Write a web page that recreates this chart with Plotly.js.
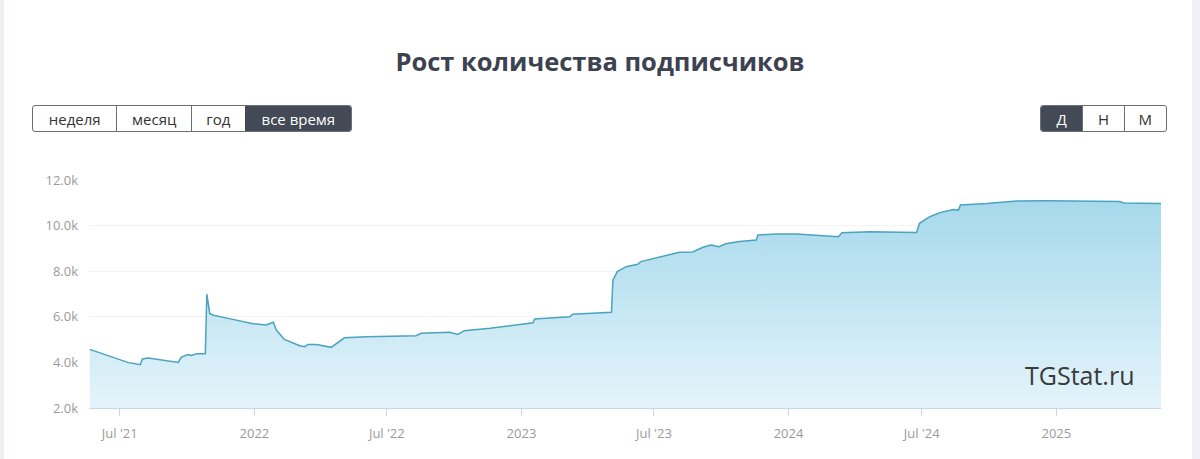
<!DOCTYPE html>
<html>
<head>
<meta charset="utf-8">
<script src="https://cdn.plot.ly/plotly-3.0.1.min.js"></script>
<style>
  html, body { margin:0; padding:0; width:1200px; height:459px; overflow:hidden; background:#eef0f4; font-family:"Open Sans", sans-serif; }
  #card { position:absolute; left:4px; top:0; width:1188px; height:459px; background:#ffffff; }
  #chart { position:absolute; left:0; top:0; width:1200px; height:459px; }
  .grp { position:absolute; top:105px; height:27px; display:flex; border:1px solid #6b7078; border-radius:3px; overflow:hidden; box-sizing:border-box; z-index:5; background:#fff; }
  .grp div { height:100%; display:flex; align-items:center; justify-content:center; font-size:15px; color:#333; box-sizing:border-box; border-left:1px solid #6b7078; }
  .grp div:first-child { border-left:none; }
  .grp div.on { background:#434a55; color:#fff; border-left-color:#434a55; }
</style>
</head>
<body>
<div id="card"></div>
<div id="chart"></div>
<div class="grp" style="left:32px;width:320px;">
  <div style="width:84px">неделя</div>
  <div style="width:75px">месяц</div>
  <div style="width:54px">год</div>
  <div class="on" style="width:107px">все время</div>
</div>
<div class="grp" style="left:1040px;width:127px;">
  <div class="on" style="width:42px">Д</div>
  <div style="width:42px">Н</div>
  <div style="width:43px">М</div>
</div>
<script>
const dates = [
  "2021-05-21","2021-07-13","2021-07-29","2021-08-01","2021-08-09","2021-09-19","2021-09-23",
  "2021-10-02","2021-10-07","2021-10-14","2021-10-26","2021-10-28","2021-11-01","2021-11-06",
  "2021-11-28","2021-12-30","2022-01-17","2022-01-27","2022-01-31","2022-02-11","2022-03-04",
  "2022-03-11","2022-03-15","2022-03-27","2022-04-16","2022-05-04","2022-06-03","2022-08-10",
  "2022-08-17","2022-09-11","2022-09-25","2022-10-06","2022-10-15","2022-11-19","2023-01-17",
  "2023-01-19","2023-03-08","2023-03-12","2023-05-04","2023-05-06","2023-05-12","2023-05-24",
  "2023-06-09","2023-06-13","2023-07-04","2023-08-05","2023-08-23","2023-09-06","2023-09-17",
  "2023-09-28","2023-10-07","2023-10-26","2023-11-18","2023-11-20","2023-12-16","2024-01-12",
  "2024-03-09","2024-03-14","2024-04-21","2024-06-24","2024-06-28","2024-07-12","2024-07-26",
  "2024-08-13","2024-08-20","2024-08-23","2024-09-28","2024-11-08","2024-12-19","2025-02-11",
  "2025-03-28","2025-04-04","2025-05-24"
];
const subscribers = [
  4570,3990,3900,4150,4190,4000,4220,
  4340,4300,4380,4380,6990,6150,6070,
  5920,5700,5640,5760,5420,5010,4730,
  4690,4790,4780,4660,5080,5130,5170,
  5280,5300,5320,5230,5390,5500,5740,
  5900,6000,6110,6200,7610,7980,8200,
  8300,8420,8590,8830,8840,9050,9150,
  9075,9200,9300,9370,9590,9630,9630,
  9510,9690,9730,9700,10100,10390,10570,
  10710,10680,10900,10970,11080,11090,11060,
  11060,10990,10970
];
const xTickVals = ["2021-07-01","2022-01-01","2022-07-01","2023-01-01","2023-07-01","2024-01-01","2024-07-01","2025-01-01"];
const xTickText = ["Jul '21","2022","Jul '22","2023","Jul '23","2024","Jul '24","2025"];
const yTickVals = [2000,4000,6000,8000,10000,12000];
const yTickText = ["2.0k","4.0k","6.0k","8.0k","10.0k","12.0k"];

const trace = {
  x: dates, y: subscribers, type:"scatter", mode:"lines",
  line:{color:"#4aa3bf", width:1.5},
  fill:"tozeroy",
  fillgradient:{type:"vertical", start:2000, stop:12000,
    colorscale:[[0,"rgb(228,244,251)"],[1,"rgb(160,214,234)"]]},
  hoverinfo:"skip"
};
const layout = {
  width:1200, height:459,
  margin:{l:89, r:39, t:180, b:51},
  paper_bgcolor:"rgba(0,0,0,0)", plot_bgcolor:"rgba(0,0,0,0)",
  showlegend:false,
  title:{text:"Рост количества подписчиков", x:0.5, xref:"container", xanchor:"center",
    y:(459-62)/459, yref:"container", yanchor:"middle",
    font:{family:"Open Sans", size:25.5, color:"#3c4250", weight:700}},
  xaxis:{type:"date", range:["2021-05-20","2025-05-24"], tickvals:xTickVals, ticktext:xTickText,
    ticks:"outside", ticklen:7, tickcolor:"#ccd6eb", tickwidth:1,
    showline:true, linecolor:"#ccd6eb", linewidth:1, showgrid:false, zeroline:false,
    ticklabelstandoff:6,
    tickfont:{family:"Open Sans", size:13, color:"#9a9a9a"}},
  yaxis:{range:[2000,12000], tickvals:yTickVals, ticktext:yTickText,
    showgrid:true, gridcolor:"#f3f3f3", gridwidth:1, zeroline:false, showline:false,
    ticks:"", ticklabelstandoff:10,
    tickfont:{family:"Open Sans", size:13, color:"#9a9a9a"}},
  annotations:[{text:"TGStat.ru", xref:"paper", yref:"paper", x:0.924, y:0.145,
    xanchor:"center", yanchor:"middle", showarrow:false,
    font:{family:"Open Sans", size:25, color:"#3a3a3a"}}]
};
Plotly.newPlot("chart", [trace], layout, {staticPlot:true, displayModeBar:false});
</script>
</body>
</html>
